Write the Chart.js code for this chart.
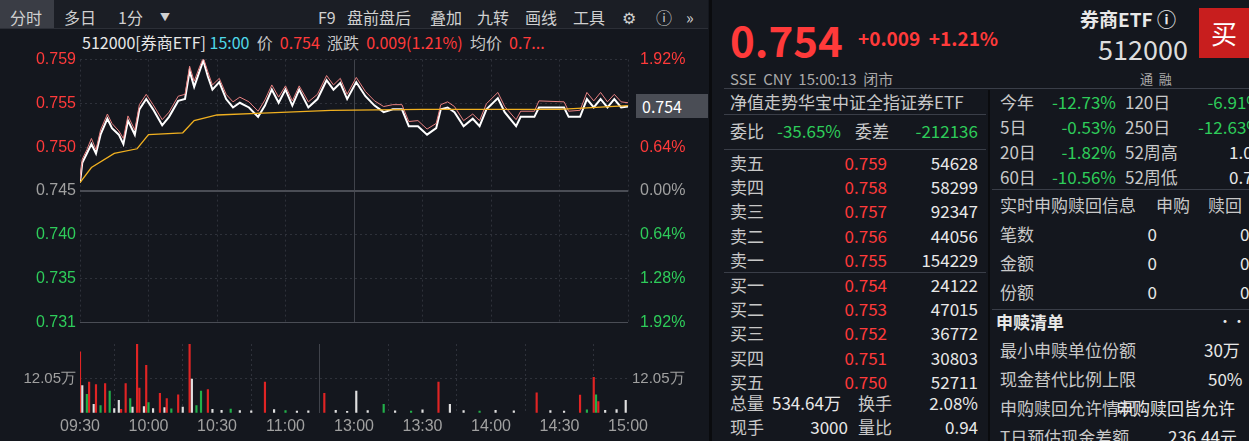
<!DOCTYPE html>
<html><head><meta charset="utf-8">
<script src="https://cdn.jsdelivr.net/npm/chart.js@4"></script>
<style>
body{margin:0;width:1249px;height:441px;background:#14171e;font-family:"Noto Sans CJK SC","Noto Sans",sans-serif;color:#c8c8c8;overflow:hidden;position:relative}
.a{position:absolute;white-space:nowrap;line-height:1}
.r{color:#ff3a3a}.g{color:#2ecc5a}.w{color:#e8e8e8}.c{color:#4fd8e8}
.hl{position:absolute;height:1px;background:#3a3e48}
#bar{position:absolute;left:0;top:0;width:708px;height:28px;background:#1b1e25;border-bottom:1px solid #2c2f37}
#bar span{position:absolute;top:5px;font-size:16px;color:#d0d0d0}
</style></head><body>
<div id="bar">
<span style="left:0;top:0;height:28px;width:54px;background:#3a3d45;padding:5px 0 0 10px;box-sizing:border-box">分时</span>
<span style="left:64px">多日</span><span style="left:118px">1分</span><span style="left:160px;font-size:10px;top:9px">▼</span>
<span style="left:318px">F9</span><span style="left:347px">盘前盘后</span><span style="left:430px">叠加</span><span style="left:477px">九转</span><span style="left:525px">画线</span><span style="left:573px">工具</span>
<span style="left:622px">⚙</span><span style="left:656px">ⓘ</span><span style="left:686px">»</span>
</div>
<div class="a" style="left:82px;top:34px;font-size:16px"><span class="w">512000[券商ETF]</span> <span class="c">15:00</span> &nbsp;价 &nbsp;<span class="r">0.754</span> &nbsp;涨跌 &nbsp;<span class="r">0.009(1.21%)</span> &nbsp;均价 &nbsp;<span class="r">0.7...</span></div>
<div style="position:absolute;left:0;top:46px;width:708px;height:290px"><canvas id="price"></canvas></div>
<div style="position:absolute;left:0;top:331px;width:708px;height:109px"><canvas id="vol"></canvas></div>
<div class="a" style="left:636px;top:94px;width:72px;height:24px;background:#4a4d55;color:#fff;font-size:16px;padding:4px 0 0 6px;box-sizing:border-box">0.754</div>
<div style="position:absolute;left:709px;top:0;width:3px;height:441px;background:#0a0b0e"></div>

<div class="a r" style="left:730px;top:18px;font-size:42px;font-weight:bold">0.754</div>
<div class="a r" style="left:858px;top:28px;font-size:19px;font-weight:bold">+0.009 &nbsp;+1.21%</div>
<div class="a w" style="left:1080px;top:9px;font-size:19px;font-weight:bold">券商ETF ⓘ</div>
<div class="a" style="left:1098px;top:35px;font-size:27px;color:#ddd">512000</div>
<div class="a" style="left:1199px;top:8px;width:50px;height:50px;background:#c81e1e;color:#fff;font-size:26px;text-align:center;line-height:50px">买</div>
<div class="a" style="left:730px;top:71px;font-size:15px;color:#aaa">SSE &nbsp;CNY &nbsp;15:00:13 &nbsp;闭市</div>
<div class="a" style="left:1140px;top:72px;font-size:13px;color:#aaa">通 &nbsp;融</div>
<div class="hl" style="left:724px;top:88px;width:525px"></div>
<div style="position:absolute;left:988px;top:90px;width:2px;height:351px;background:#0a0b0e"></div>
<div id="left"></div><div id="right"></div>

<script>
// 分时数据 (分钟序号 0 = 09:30, 240 = 15:00)
const timeLabels = ["09:30", "10:00", "10:30", "11:00", "13:00", "13:30", "14:00", "14:30", "15:00"];
const priceTicks = ["0.731", "0.735", "0.740", "0.745", "0.750", "0.755", "0.759"];
const pctTicks = ["1.92%", "1.28%", "0.64%", "0.00%", "0.64%", "1.28%", "1.92%"];
const priceMin = [0, 1, 3, 5, 7, 9, 12, 14, 17, 19, 21, 24, 26, 29, 32, 36, 39, 43, 46, 48, 50, 52, 54, 56, 58, 61, 64, 67, 70, 74, 78, 81, 84, 87, 90, 93, 96, 100, 104, 108, 111, 114, 117, 121, 125, 129, 133, 137, 141, 144, 148, 152, 156, 158, 161, 164, 168, 172, 175, 178, 183, 186, 191, 193, 199, 201, 212, 214, 219, 222, 225, 228, 231, 234, 237, 240];
const price = [0.7459, 0.748, 0.749, 0.750, 0.749, 0.751, 0.7527, 0.7517, 0.751, 0.750, 0.7525, 0.751, 0.7537, 0.7548, 0.7537, 0.752, 0.7529, 0.7546, 0.7548, 0.7578, 0.7561, 0.7575, 0.7589, 0.7572, 0.7558, 0.7566, 0.7548, 0.7539, 0.7544, 0.7539, 0.7529, 0.7541, 0.7558, 0.7544, 0.7558, 0.7541, 0.7558, 0.7539, 0.7548, 0.7568, 0.7558, 0.7565, 0.7548, 0.7566, 0.7551, 0.7541, 0.7534, 0.7537, 0.7537, 0.7519, 0.7519, 0.751, 0.7517, 0.7537, 0.7539, 0.7534, 0.7519, 0.7527, 0.7519, 0.7537, 0.7549, 0.7534, 0.7519, 0.7529, 0.7529, 0.7539, 0.7539, 0.7529, 0.7529, 0.7548, 0.7539, 0.7548, 0.7539, 0.7548, 0.7539, 0.754];
const nav = [0.7462, 0.7484, 0.7494, 0.7506, 0.7494, 0.7515, 0.7532, 0.7522, 0.7514, 0.7506, 0.753, 0.7515, 0.7542, 0.7553, 0.7542, 0.7526, 0.7534, 0.7551, 0.7553, 0.7583, 0.7567, 0.758, 0.7592, 0.7577, 0.7563, 0.757, 0.7553, 0.7545, 0.755, 0.7545, 0.7535, 0.7547, 0.7563, 0.755, 0.7562, 0.7546, 0.7562, 0.7545, 0.7553, 0.7573, 0.7563, 0.757, 0.7553, 0.7571, 0.7556, 0.7546, 0.754, 0.7542, 0.7542, 0.7524, 0.7525, 0.7516, 0.7522, 0.7542, 0.7545, 0.754, 0.7525, 0.7532, 0.7525, 0.7543, 0.7555, 0.754, 0.7526, 0.7535, 0.7535, 0.7546, 0.7545, 0.7535, 0.7536, 0.7555, 0.7546, 0.7555, 0.7545, 0.7553, 0.7545, 0.7544];
const avgMin = [0, 5, 15, 25, 30, 45, 50, 60, 80, 110, 150, 210, 240];
const avgPrice = [0.7459, 0.7475, 0.749, 0.7495, 0.751, 0.7512, 0.7525, 0.7531, 0.7533, 0.7536, 0.7537, 0.7537, 0.7541];
// 成交量 (万)
const volMin = [0, 1, 3, 4, 6, 7, 9, 11, 13, 15, 17, 18, 20, 22, 23, 25, 26, 28, 29, 30, 32, 35, 37, 38, 40, 43, 45, 48, 49, 51, 53, 56, 58, 62, 66, 70, 75, 81, 85, 90, 95, 100, 107, 112, 117, 121, 126, 133, 138, 145, 150, 157, 162, 168, 175, 182, 190, 200, 206, 212, 219, 222, 225, 226, 227, 230, 235, 239];
const vol = [21.4, 9.5, 6.5, 10.8, 3, 9.9, 2.5, 10.2, 7.6, 1.5, 4.4, 1.2, 10.2, 5, 2, 24, 8.7, 2.2, 16.6, 3.6, 1.5, 6.8, 1.8, 5, 1.4, 6.3, 2, 24.2, 11.8, 2.5, 7.6, 8.1, 1.2, 0.9, 1.3, 0.8, 0.7, 10.8, 1.1, 0.8, 0.6, 0.7, 6.8, 0.9, 0.5, 7.6, 0.8, 3, 0.7, 0.6, 1, 10.8, 3, 0.8, 0.6, 0.9, 0.7, 7, 0.8, 0.6, 6.2, 1, 12.4, 6.3, 3.9, 0.9, 1.1, 4.4];
const volColor = ["r", "w", "g", "r", "w", "r", "g", "r", "g", "w", "w", "r", "r", "g", "w", "r", "r", "w", "r", "g", "w", "r", "w", "r", "g", "r", "w", "r", "w", "g", "g", "r", "w", "w", "g", "w", "w", "r", "w", "g", "w", "w", "r", "w", "w", "w", "w", "g", "w", "g", "w", "r", "w", "w", "g", "w", "w", "r", "w", "w", "r", "g", "r", "g", "r", "w", "w", "w"];

const colors = { r: "#e02424", g: "#22b04a", w: "#e0e0e0" };
const charts = [];
const pMin = 0.731, pMax = 0.759;
const xTicks = [0, 30, 60, 90, 120, 150, 180, 210, 240];

function pts(xs, ys) { return xs.map((x, i) => ({ x, y: ys[i] })); }
function fixWidth(axis) { axis.width = 80; }
function isMid(c) { return c && c.tick && c.tick.value === 120; }

function xAxis(showLabels) {
  return {
    type: "linear", min: 0, max: 240, offset: false,
    afterBuildTicks: (a) => { a.ticks = xTicks.map(v => ({ value: v })); },
    ticks: showLabels
      ? { callback: (v, i) => timeLabels[i], color: "#a0a0a0", font: { size: 16 }, maxRotation: 0, autoSkip: false, padding: 4 }
      : { display: false },
    border: { display: false, dash: (c) => isMid(c) ? [] : [2, 3] },
    grid: { color: (c) => isMid(c) ? "#40434b" : "#2e313a", drawTicks: false },
  };
}

function generatePrice() {
  const ctx = document.getElementById("price").getContext("2d");
  const step = (pMax - pMin) / 6;
  const tickColor = (c) => c.index > 3 ? "#ff3a3a" : c.index < 3 ? "#2ecc5a" : "#a0a0a0";
  const chart = new Chart(ctx, {
    type: "line",
    data: {
      datasets: [
        { data: pts(avgMin, avgPrice), borderColor: "#f0b020", borderWidth: 1.3, pointRadius: 0, tension: 0 },
        { data: pts(priceMin, nav), borderColor: "#e88080", borderWidth: 1, pointRadius: 0, tension: 0 },
        { data: pts(priceMin, price), borderColor: "#ffffff", borderWidth: 2, pointRadius: 0, tension: 0 },
      ],
    },
    options: {
      animation: false, responsive: true, maintainAspectRatio: false,
      layout: { padding: { top: 9, bottom: 0 } },
      plugins: { legend: { display: false }, tooltip: { enabled: false } },
      scales: {
        x: xAxis(false),
        y: {
          min: pMin, max: pMax, position: "left", afterFit: fixWidth,
          afterBuildTicks: (a) => { a.ticks = priceTicks.map((t, i) => ({ value: pMin + step * i })); },
          ticks: { font: { size: 16 }, padding: 4, callback: (v, i) => priceTicks[i], color: tickColor },
          border: { display: false, dash: (c) => (c.index === 3 || c.index === 0) ? [] : [2, 3] },
          grid: { color: (c) => c.index === 3 || c.index === 0 ? "#4a4d55" : "#2e313a", lineWidth: (c) => c.index === 3 ? 2 : 1, drawTicks: false },
        },
        y2: {
          min: pMin, max: pMax, position: "right", afterFit: fixWidth,
          afterBuildTicks: (a) => { a.ticks = pctTicks.map((t, i) => ({ value: pMin + step * i })); },
          ticks: { font: { size: 16 }, padding: 4, callback: (v, i) => pctTicks[i], color: tickColor },
          border: { display: false }, grid: { display: false },
        },
      },
    },
  });
  charts.push(chart);
}

function generateVol() {
  const ctx = document.getElementById("vol").getContext("2d");
  const volAxis = (pos) => ({
    min: 0, max: 24.1, position: pos, afterFit: fixWidth,
    afterBuildTicks: (a) => { a.ticks = [{ value: 12.05 }]; },
    ticks: { callback: () => "12.05万", color: "#a0a0a0", font: { size: 15 }, padding: 4 },
    border: { display: false, dash: [2, 3] },
    grid: { display: pos === "left", color: "#2e313a", drawTicks: false },
  });
  const chart = new Chart(ctx, {
    type: "bar",
    data: {
      datasets: [{ data: pts(volMin, vol), backgroundColor: volColor.map(c => colors[c]), barThickness: 1.5 }],
    },
    options: {
      animation: false, responsive: true, maintainAspectRatio: false,
      plugins: { legend: { display: false }, tooltip: { enabled: false } },
      scales: { x: xAxis(true), y: volAxis("left"), y2: volAxis("right") },
    },
  });
  charts.push(chart);
}

// 右侧盘口
const bookLabels = ["卖五", "卖四", "卖三", "卖二", "卖一", "买一", "买二", "买三", "买四", "买五"];
const bookPrices = ["0.759", "0.758", "0.757", "0.756", "0.755", "0.754", "0.753", "0.752", "0.751", "0.750"];
const bookQty = ["54628", "58299", "92347", "44056", "154229", "24122", "47015", "36772", "30803", "52711"];
const perfRows = [["今年", "-12.73%", "120日", "-6.91%"], ["5日", "-0.53%", "250日", "-12.63%"], ["20日", "-1.82%", "52周高", "1.07"], ["60日", "-10.56%", "52周低", "0.71"]];

function txt(html, l, t, size, cls, extra) {
  return `<div class="a ${cls || ""}" style="left:${l}px;top:${t}px;font-size:${size}px;${extra || ""}">${html}</div>`;
}
function rt(html, r, t, size, cls) {
  return `<div class="a ${cls || ""}" style="right:${1249 - r}px;top:${t}px;font-size:${size}px">${html}</div>`;
}

function buildPanels() {
  let h = "";
  h += txt("净值走势华宝中证全指证券ETF", 730, 93, 17, "");
  h += `<div class="hl" style="left:724px;top:114px;width:262px"></div>`;
  h += txt("委比", 730, 122, 17, "") + txt("-35.65%", 777, 122, 17, "g") + txt("委差", 855, 122, 17, "") + rt("-212136", 978, 122, 17, "g");
  h += `<div class="hl" style="left:724px;top:149px;width:262px"></div>`;
  bookLabels.forEach((l, i) => {
    const t = 154 + i * 24.2 + (i > 4 ? 1 : 0);
    h += txt(l, 730, t, 17, "") + rt(bookPrices[i], 887, t, 17, "r") + rt(bookQty[i], 978, t, 17, "w");
  });
  h += `<div class="hl" style="left:724px;top:272px;width:262px"></div>`;
  h += txt("总量", 730, 394, 17, "") + txt("534.64万", 772, 394, 17, "w") + txt("换手", 858, 394, 17, "") + rt("2.08%", 978, 394, 17, "w");
  h += txt("现手", 730, 418, 17, "") + rt("3000", 848, 418, 17, "w") + txt("量比", 858, 418, 17, "") + rt("0.94", 978, 418, 17, "w");
  perfRows.forEach((r, i) => {
    const t = 93 + i * 25;
    h += txt(r[0], 1000, t, 17, "") + rt(r[1], 1116, t, 17, "g") + txt(r[2], 1125, t, 17, "") + rt(r[3], 1262, t, 17, i < 2 ? "g" : "w");
  });
  h += `<div class="hl" style="left:992px;top:189px;width:257px"></div>`;
  h += txt("实时申购赎回信息", 1000, 196, 17, "") + txt("申购", 1156, 196, 17, "") + txt("赎回", 1208, 196, 17, "");
  ["笔数", "金额", "份额"].forEach((l, i) => {
    const t = 225 + i * 29;
    h += txt(l, 1000, t, 17, "") + rt("0", 1157, t, 17, "w") + txt("0", 1240, t, 17, "w");
  });
  h += `<div class="hl" style="left:992px;top:309px;width:257px"></div>`;
  h += txt("申赎清单", 996, 313, 17, "w", "font-weight:bold") + txt("···", 1218, 313, 14, "w");
  h += txt("最小申赎单位份额", 1000, 341, 17, "") + txt("30万", 1204, 341, 17, "w");
  h += txt("现金替代比例上限", 1000, 370, 17, "") + txt("50%", 1208, 370, 17, "w");
  h += txt("申购赎回允许情况", 1000, 399, 17, "") + txt("申购赎回皆允许", 1116, 399, 17, "w");
  h += txt("T日预估现金差额", 1000, 428, 17, "") + txt("236.44元", 1168, 428, 17, "w");
  document.getElementById("left").innerHTML = h;
}

buildPanels();
generatePrice();
generateVol();
</script>
</body></html>
